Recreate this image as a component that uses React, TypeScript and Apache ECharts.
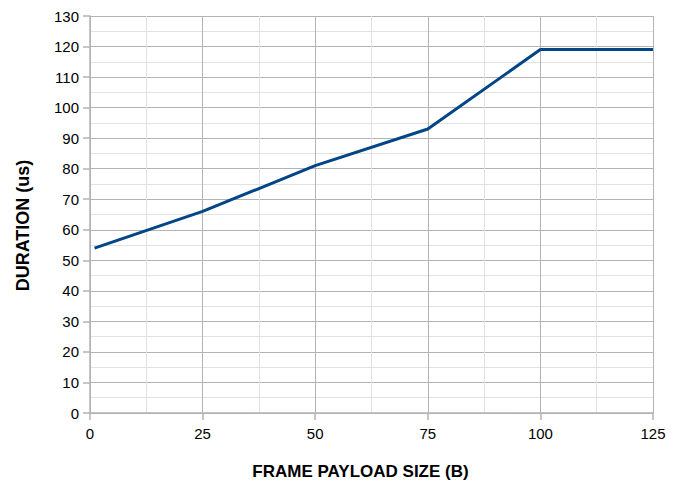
import React, { useEffect, useRef } from "react";
import * as echarts from "echarts";

const payloadSizes = [1, 25, 50, 75, 100, 125];
const durations = [54, 66, 81, 93, 119, 119];
const xTitle = "FRAME PAYLOAD SIZE (B)";
const yTitle = "DURATION (us)";

export default function App() {
  const ref = useRef<HTMLDivElement>(null);
  useEffect(() => {
    const chart = echarts.init(ref.current!, null, { renderer: "svg" });
    const font = "'Liberation Sans', Arial, sans-serif";
    chart.setOption({
      animation: false,
      backgroundColor: "#ffffff",
      grid: { left: 90, right: 30, top: 16, bottom: 74, containLabel: false },
      xAxis: {
        type: "value",
        min: 0,
        max: 125,
        interval: 25,
        name: xTitle,
        nameLocation: "middle",
        nameGap: 50,
        nameTextStyle: {
          fontFamily: font,
          fontSize: 17,
          fontWeight: "bold",
          color: "#000",
          padding: [0, 22, 0, 0],
        },
        axisLine: { show: true, lineStyle: { color: "#b3b3b3", width: 1.5 } },
        axisTick: { show: true, length: 7, lineStyle: { color: "#b3b3b3", width: 1.5 } },
        axisLabel: { fontFamily: font, fontSize: 15, color: "#000", margin: 13 },
        splitLine: { show: true, lineStyle: { color: "#b3b3b3", width: 1 } },
        minorTick: { show: false, splitNumber: 2 },
        minorSplitLine: { show: true, lineStyle: { color: "#e2e2e2", width: 1 } },
      },
      yAxis: {
        type: "value",
        min: 0,
        max: 130,
        interval: 10,
        name: yTitle,
        nameLocation: "middle",
        nameGap: 58,
        nameTextStyle: {
          fontFamily: font,
          fontSize: 18,
          fontWeight: "bold",
          color: "#000",
          padding: [0, 22, 0, 0],
        },
        axisLine: { show: true, lineStyle: { color: "#b3b3b3", width: 1.5 } },
        axisTick: { show: true, length: 7, lineStyle: { color: "#b3b3b3", width: 1.5 } },
        axisLabel: { fontFamily: font, fontSize: 15, color: "#000", margin: 11 },
        splitLine: { show: true, lineStyle: { color: "#b3b3b3", width: 1 } },
        minorTick: { show: false, splitNumber: 2 },
        minorSplitLine: { show: true, lineStyle: { color: "#e2e2e2", width: 1 } },
      },
      series: [
        {
          type: "line",
          data: payloadSizes.map((x, i) => [x, durations[i]]),
          showSymbol: false,
          symbol: "none",
          lineStyle: { color: "#004586", width: 3 },
          itemStyle: { color: "#004586" },
        },
      ],
    });
    return () => chart.dispose();
  }, []);
  return (
    <div
      ref={ref}
      style={{ width: 683, height: 487, position: "absolute", left: 0, top: 0 }}
    />
  );
}
